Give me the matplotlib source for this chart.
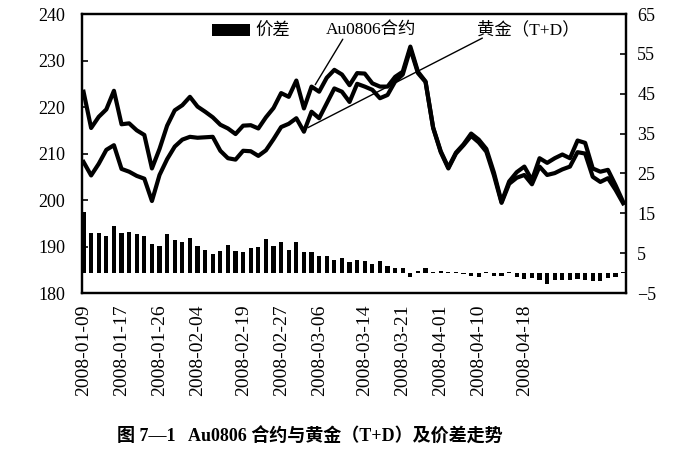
import numpy as np
import matplotlib
matplotlib.use("Agg")
from matplotlib import pyplot as plt

plt.rcParams['font.family'] = ['Liberation Serif', 'Noto Sans CJK SC']

# 价差 = Au0806 - 黄金(T+D) (right axis)
spread = [15.4, 10.1, 10.1, 9.4, 11.9, 10.1, 10.4, 9.9, 9.4, 7.4,
          6.8, 9.9, 8.3, 7.8, 8.8, 6.8, 5.9, 4.7, 5.6, 7.0,
          5.6, 5.4, 6.2, 6.5, 8.6, 6.8, 7.9, 5.8, 7.9, 5.4,
          5.4, 4.3, 4.3, 3.3, 3.7, 2.8, 3.3, 3.0, 2.4, 3.0,
          1.8, 1.4, 1.2, -1.0, 0.6, 1.2, 0.3, 0.5, 0.3, 0.3,
          -0.1, -0.8, -0.9, 0.3, -0.8, -0.8, 0.4, -0.9, -1.5, -1.2,
          -1.8, -2.8, -1.6, -1.7, -1.7, -1.5, -1.6, -2.0, -2.0, -1.3,
          -0.9, 0.4]

# Au0806 合约 (left axis)
au0806 = [223.3, 215.5, 217.9, 219.5, 223.5, 216.3, 216.5, 215.0, 214.0, 206.8,
          211.0, 216.0, 219.3, 220.4, 222.2, 220.1, 219.0, 217.8, 216.2, 215.4,
          214.2, 216.0, 216.1, 215.4, 217.8, 219.8, 223.0, 222.2, 225.7, 219.7,
          224.4, 223.3, 226.3, 228.0, 227.0, 224.7, 227.3, 227.2, 225.1, 224.4,
          224.4, 226.5, 227.6, 233.0, 227.6, 225.5, 215.5, 210.3, 206.8, 210.0,
          211.8, 213.8, 212.4, 210.4, 205.3, 199.4, 203.5, 204.8, 205.4, 203.4,
          207.2, 205.4, 205.8, 206.6, 207.2, 210.3, 210.0, 205.0, 203.9, 204.7,
          202.2, 199.3]

# 黄金(T+D) (left axis)
gold_td = [208.2, 205.3, 207.8, 210.8, 211.8, 206.7, 206.1, 205.2, 204.6, 199.8,
           205.4, 208.8, 211.5, 213.0, 213.6, 213.4, 213.5, 213.6, 210.6, 209.0,
           208.7, 210.6, 210.5, 209.5, 210.7, 213.1, 215.7, 216.4, 217.6, 214.7,
           219.0, 217.6, 220.8, 224.0, 223.3, 221.1, 225.0, 224.4, 223.7, 221.9,
           222.6, 225.5, 227.0, 232.5, 227.3, 225.4, 215.6, 210.5, 207.0, 210.2,
           212.0, 214.3, 213.0, 211.0, 205.9, 199.6, 204.0, 206.0, 207.2, 204.3,
           209.0, 208.0, 209.0, 209.8, 209.0, 212.8, 212.3, 206.8, 206.1, 206.5,
           203.2, 199.6]

date_labels = ['2008-01-09', '2008-01-17', '2008-01-26', '2008-02-04',
               '2008-02-19', '2008-02-27', '2008-03-06', '2008-03-14',
               '2008-03-21', '2008-04-01', '2008-04-10', '2008-04-18']
label_idx = [0, 5, 10, 15, 21, 26, 31, 37, 42, 47, 52, 58]

x = np.arange(len(spread))

fig = plt.figure(figsize=(6.95, 4.53), dpi=100)
ax = fig.add_axes([0.118, 0.353, 0.783, 0.616])
ax2 = ax.twinx()

bars = ax2.bar(x, spread, width=0.55, color='black', label='价差')
ax.plot(x, au0806, color='black', lw=3.0)
ax.plot(x, gold_td, color='black', lw=3.0)

ax.set_xlim(-0.2, 71.4)
ax.set_ylim(180, 240)
ax2.set_ylim(-5, 65)
ax.set_yticks(range(180, 241, 10))
ax2.set_yticks(range(-5, 66, 10))
ax.set_xticks(label_idx)
ax.set_xticklabels(date_labels, rotation=90, fontsize=14)
ax.tick_params(axis='x', length=0, pad=8)
ax.tick_params(axis='y', direction='in', length=4, labelsize=13, width=1.2, pad=12)
ax2.tick_params(axis='y', direction='in', length=4, labelsize=13, width=1.2, pad=8)
for a in (ax, ax2):
    for s in a.spines.values():
        s.set_linewidth(1.6)

# leader lines and labels
ax.annotate('', xy=(30.3, 224.3), xytext=(34.3, 235.1),
            arrowprops=dict(arrowstyle='-', lw=1.0, color='black'))
ax.annotate('', xy=(29.2, 215.3), xytext=(52.8, 235.1),
            arrowprops=dict(arrowstyle='-', lw=1.0, color='black'))
ax.text(31.9, 236.6, 'Au0806合约', fontsize=12.5, ha='left', va='center')
ax.text(51.8, 236.6, '黄金（T+D）', fontsize=12.5, ha='left', va='center')

ax2.legend(handles=[bars], loc='upper left', bbox_to_anchor=(0.21, 1.02),
           frameon=False, fontsize=12.5, handlelength=2.2, handleheight=0.7,
           handletextpad=0.3)

fig.text(0.446, 0.035, '图 7—1   Au0806 合约与黄金（T+D）及价差走势',
         fontsize=13, fontweight='bold', ha='center', va='center')

fig.savefig('out.png', dpi=100)
